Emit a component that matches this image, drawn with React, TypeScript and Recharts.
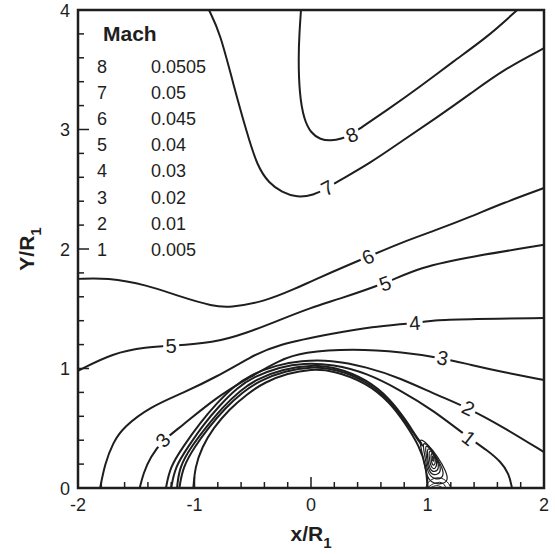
import React from 'react';
import { ComposedChart, Line, Scatter, XAxis, YAxis, ReferenceArea } from 'recharts';

const FONT = '"Liberation Sans", Arial, Helvetica, sans-serif';
const INK = '#1e1e1e';

// Tick positions (majors are integers)
const xTicks = [-2, -1.8, -1.6, -1.4, -1.2, -1, -0.8, -0.6, -0.4, -0.2, 0, 0.2, 0.4, 0.6, 0.8, 1, 1.2, 1.4, 1.6, 1.8, 2];
const yTicks = [0, 0.2, 0.4, 0.6, 0.8, 1, 1.2, 1.4, 1.6, 1.8, 2, 2.2, 2.4, 2.6, 2.8, 3, 3.2, 3.4, 3.6, 3.8, 4];

// Legend
const legendLevels = ['8', '7', '6', '5', '4', '3', '2', '1'];
const legendValues = ['0.0505', '0.05', '0.045', '0.04', '0.03', '0.02', '0.01', '0.005'];

// Contour lines (x/R1, Y/R1)
const contour8 = [
  { x: -0.086, y: 4.0 }, { x: -0.1, y: 3.8 }, { x: -0.108, y: 3.6 }, { x: -0.1, y: 3.3 },
  { x: -0.06, y: 3.08 }, { x: 0.0, y: 2.97 }, { x: 0.08, y: 2.915 }, { x: 0.17, y: 2.905 },
  { x: 0.26, y: 2.92 }, { x: 0.35, y: 2.96 }, { x: 0.42, y: 3.01 }, { x: 0.65, y: 3.16 },
  { x: 0.94, y: 3.36 }, { x: 1.22, y: 3.57 }, { x: 1.51, y: 3.77 }, { x: 1.77, y: 4.0 },
];
const contour7 = [
  { x: -0.876, y: 4.0 }, { x: -0.781, y: 3.81 }, { x: -0.67, y: 3.39 }, { x: -0.55, y: 2.97 },
  { x: -0.46, y: 2.69 }, { x: -0.36, y: 2.55 }, { x: -0.25, y: 2.475 }, { x: -0.12, y: 2.43 },
  { x: 0.02, y: 2.45 }, { x: 0.14, y: 2.51 }, { x: 0.22, y: 2.56 }, { x: 0.51, y: 2.72 },
  { x: 0.79, y: 2.91 }, { x: 1.08, y: 3.1 }, { x: 1.37, y: 3.3 }, { x: 1.65, y: 3.5 }, { x: 2.0, y: 3.68 },
];
const contour6 = [
  { x: -2, y: 1.75 }, { x: -1.75, y: 1.76 }, { x: -1.41, y: 1.7 }, { x: -1.12, y: 1.6 },
  { x: -0.84, y: 1.52 }, { x: -0.7, y: 1.51 }, { x: -0.41, y: 1.556 }, { x: -0.12, y: 1.674 },
  { x: 0.0, y: 1.73 }, { x: 0.36, y: 1.883 }, { x: 0.49, y: 1.935 }, { x: 0.79, y: 2.06 },
  { x: 1.08, y: 2.16 }, { x: 1.37, y: 2.27 }, { x: 1.65, y: 2.385 }, { x: 2, y: 2.51 },
];
const contour5 = [
  { x: -2, y: 0.98 }, { x: -1.7, y: 1.13 }, { x: -1.41, y: 1.18 }, { x: -1.2, y: 1.19 },
  { x: -0.84, y: 1.213 }, { x: -0.55, y: 1.297 }, { x: -0.27, y: 1.406 }, { x: 0.0, y: 1.51 },
  { x: 0.22, y: 1.575 }, { x: 0.635, y: 1.71 }, { x: 0.94, y: 1.85 }, { x: 1.37, y: 1.935 }, { x: 2, y: 2.035 },
];
const contour4 = [
  { x: -1.81, y: 0 }, { x: -1.77, y: 0.2 }, { x: -1.7, y: 0.38 }, { x: -1.61, y: 0.51 },
  { x: -1.38, y: 0.68 }, { x: -1.1, y: 0.795 }, { x: -0.81, y: 0.93 }, { x: -0.52, y: 1.096 },
  { x: -0.3, y: 1.2 }, { x: 0.22, y: 1.3 }, { x: 0.51, y: 1.347 }, { x: 0.89, y: 1.381 },
  { x: 1.08, y: 1.406 }, { x: 1.37, y: 1.414 }, { x: 2, y: 1.423 },
];
const contour3 = [
  { x: -1.47, y: 0 }, { x: -1.44, y: 0.12 }, { x: -1.38, y: 0.26 }, { x: -1.27, y: 0.4 },
  { x: -1.12, y: 0.51 }, { x: -0.81, y: 0.762 }, { x: -0.52, y: 0.93 }, { x: -0.27, y: 1.07 },
  { x: -0.07, y: 1.138 }, { x: 0.36, y: 1.165 }, { x: 0.79, y: 1.138 }, { x: 1.13, y: 1.088 },
  { x: 1.37, y: 1.03 }, { x: 1.65, y: 0.97 }, { x: 2, y: 0.904 },
];
const contour2 = [
  { x: -1.245, y: 0 }, { x: -1.21, y: 0.176 }, { x: -1.1, y: 0.343 }, { x: -0.953, y: 0.544 },
  { x: -0.807, y: 0.711 }, { x: -0.67, y: 0.845 }, { x: -0.524, y: 0.946 }, { x: -0.29, y: 1.03 },
  { x: -0.09, y: 1.065 }, { x: 0.17, y: 1.072 }, { x: 0.48, y: 1.013 }, { x: 0.764, y: 0.921 },
  { x: 1.08, y: 0.778 }, { x: 1.35, y: 0.669 }, { x: 1.65, y: 0.51 }, { x: 2, y: 0.3 },
];
const contour1 = [
  { x: -1.2, y: 0 }, { x: -1.167, y: 0.176 }, { x: -1.056, y: 0.343 }, { x: -0.927, y: 0.527 },
  { x: -0.781, y: 0.695 }, { x: -0.635, y: 0.837 }, { x: -0.498, y: 0.929 }, { x: -0.266, y: 1.013 },
  { x: -0.069, y: 1.046 }, { x: 0.19, y: 1.035 }, { x: 0.48, y: 0.962 }, { x: 0.764, y: 0.82 },
  { x: 1.047, y: 0.653 }, { x: 1.356, y: 0.418 }, { x: 1.511, y: 0.318 }, { x: 1.63, y: 0.22 },
  { x: 1.7, y: 0.12 }, { x: 1.725, y: 0 },
];
const innerA = [
  { x: -1.15, y: 0 }, { x: -1.13, y: 0.176 }, { x: -1.03, y: 0.343 }, { x: -0.9, y: 0.51 },
  { x: -0.76, y: 0.675 }, { x: -0.61, y: 0.815 }, { x: -0.46, y: 0.915 }, { x: -0.24, y: 0.995 },
  { x: 0.0, y: 1.03 }, { x: 0.2, y: 1.015 }, { x: 0.48, y: 0.91 }, { x: 0.68, y: 0.745 },
  { x: 0.82, y: 0.56 }, { x: 0.91, y: 0.42 }, { x: 0.95, y: 0.37 },
];
const innerB = [
  { x: -1.13, y: 0 }, { x: -1.1, y: 0.176 }, { x: -1.0, y: 0.343 }, { x: -0.875, y: 0.51 },
  { x: -0.735, y: 0.67 }, { x: -0.59, y: 0.8 }, { x: -0.44, y: 0.9 }, { x: -0.22, y: 0.98 },
  { x: 0.0, y: 1.015 }, { x: 0.2, y: 1.0 }, { x: 0.48, y: 0.895 }, { x: 0.68, y: 0.73 },
  { x: 0.82, y: 0.545 }, { x: 0.92, y: 0.4 }, { x: 0.96, y: 0.35 },
];
const innerC = [
  { x: -1.01, y: 0 }, { x: -0.995, y: 0.176 }, { x: -0.936, y: 0.343 }, { x: -0.84, y: 0.5 },
  { x: -0.7, y: 0.66 }, { x: -0.55, y: 0.785 }, { x: -0.4, y: 0.885 }, { x: -0.2, y: 0.96 },
  { x: 0.0, y: 0.995 }, { x: 0.19, y: 0.985 }, { x: 0.48, y: 0.88 }, { x: 0.68, y: 0.715 },
  { x: 0.82, y: 0.525 }, { x: 0.93, y: 0.35 }, { x: 0.99, y: 0.18 }, { x: 1.0, y: 0 },
];

// Small recirculation contours near x = 1
const loopA = [
  { x: 0.918, y: 0.43 }, { x: 1.0, y: 0.37 }, { x: 1.09, y: 0.26 }, { x: 1.16, y: 0.14 },
  { x: 1.18, y: 0.06 }, { x: 1.12, y: 0.03 }, { x: 1.03, y: 0.04 }, { x: 0.985, y: 0.12 }, { x: 0.96, y: 0.28 },
];
const loopB = [
  { x: 0.95, y: 0.4 }, { x: 1.02, y: 0.34 }, { x: 1.09, y: 0.24 }, { x: 1.14, y: 0.14 },
  { x: 1.13, y: 0.08 }, { x: 1.06, y: 0.07 }, { x: 1.0, y: 0.12 }, { x: 0.98, y: 0.26 },
];
const loopC = [
  { x: 0.975, y: 0.37 }, { x: 1.04, y: 0.32 }, { x: 1.09, y: 0.23 }, { x: 1.12, y: 0.15 },
  { x: 1.09, y: 0.11 }, { x: 1.03, y: 0.11 }, { x: 1.0, y: 0.18 }, { x: 0.99, y: 0.28 },
];
const loopD = [
  { x: 0.995, y: 0.35 }, { x: 1.05, y: 0.3 }, { x: 1.09, y: 0.22 }, { x: 1.1, y: 0.16 },
  { x: 1.06, y: 0.13 }, { x: 1.02, y: 0.15 }, { x: 1.0, y: 0.25 },
];
const loopE = [
  { x: 1.01, y: 0.33 }, { x: 1.06, y: 0.28 }, { x: 1.085, y: 0.21 }, { x: 1.07, y: 0.16 },
  { x: 1.035, y: 0.16 }, { x: 1.015, y: 0.24 },
];
const loopF = [
  { x: 1.03, y: 0.31 }, { x: 1.065, y: 0.26 }, { x: 1.07, y: 0.21 }, { x: 1.05, y: 0.18 }, { x: 1.03, y: 0.22 },
];
const loopG = [
  { x: 1.04, y: 0.28 }, { x: 1.055, y: 0.25 }, { x: 1.055, y: 0.22 }, { x: 1.04, y: 0.23 },
];
const arcA = [
  { x: 0.985, y: 0 }, { x: 1.02, y: 0.06 }, { x: 1.1, y: 0.085 }, { x: 1.17, y: 0.05 }, { x: 1.2, y: 0 },
];
const arcB = [
  { x: 1.0, y: 0 }, { x: 1.05, y: 0.035 }, { x: 1.12, y: 0.045 }, { x: 1.16, y: 0 },
];
const arcC = [
  { x: 1.02, y: 0 }, { x: 1.08, y: 0.02 }, { x: 1.13, y: 0 },
];

const contours = [contour8, contour7, contour6, contour5, contour4, contour3, contour2, contour1, innerA, innerB, innerC];
const vortex = [loopA, loopB, loopC, loopD, loopE, loopF, loopG];
const vortexArcs = [arcA, arcB, arcC];

// Inline contour labels
const labelPoints = [
  { x: 0.35, y: 2.955, label: '8', angle: -23 },
  { x: 0.14, y: 2.51, label: '7', angle: -28 },
  { x: 0.49, y: 1.935, label: '6', angle: -24 },
  { x: 0.635, y: 1.71, label: '5', angle: -20 },
  { x: -1.2, y: 1.19, label: '5', angle: -2 },
  { x: 0.89, y: 1.381, label: '4', angle: -5 },
  { x: 1.13, y: 1.088, label: '3', angle: 11 },
  { x: -1.27, y: 0.4, label: '3', angle: -47 },
  { x: 1.35, y: 0.669, label: '2', angle: 26 },
  { x: 1.356, y: 0.418, label: '1', angle: 38 },
];

const XTick = (props: any) => {
  const { x, y, payload } = props;
  const major = Number.isInteger(payload.value);
  return (
    <g>
      <line x1={x} y1={y} x2={x} y2={y - (major ? 11 : 6)} stroke={INK} strokeWidth={1.5} />
      {major && (
        <text x={x} y={y + 23} textAnchor="middle" fontSize={18} fontFamily={FONT} fill={INK}>
          {payload.value}
        </text>
      )}
    </g>
  );
};

const YTick = (props: any) => {
  const { x, y, payload } = props;
  const major = Number.isInteger(payload.value);
  return (
    <g>
      <line x1={x} y1={y} x2={x + (major ? 11 : 6)} y2={y} stroke={INK} strokeWidth={1.5} />
      {major && (
        <text x={x - 8} y={y + 6.5} textAnchor="end" fontSize={18} fontFamily={FONT} fill={INK}>
          {payload.value}
        </text>
      )}
    </g>
  );
};

const LabelShape = (props: any) => {
  const { cx, cy, payload } = props;
  return (
    <g transform={`rotate(${payload.angle} ${cx} ${cy})`}>
      <rect x={cx - 8} y={cy - 9} width={16} height={18} fill="#fff" />
      <text x={cx} y={cy + 7} textAnchor="middle" fontSize={20} fontFamily={FONT} fill={INK}>
        {payload.label}
      </text>
    </g>
  );
};

export default function App() {
  return (
    <div style={{ position: 'absolute', left: 0, top: 0, width: 555, height: 554, background: '#fff' }}>
      <ComposedChart width={555} height={554} margin={{ top: 10, right: 11, bottom: 0, left: 0 }}>
        <XAxis
          dataKey="x"
          type="number"
          domain={[-2, 2]}
          ticks={xTicks}
          interval={0}
          height={66}
          axisLine={false}
          tickLine={false}
          tickSize={0}
          tickMargin={0}
          tick={<XTick />}
        />
        <YAxis
          dataKey="y"
          type="number"
          domain={[0, 4]}
          ticks={yTicks}
          interval={0}
          width={78}
          axisLine={false}
          tickLine={false}
          tickSize={0}
          tickMargin={0}
          tick={<YTick />}
        />
        {vortex.map((d, i) => (
          <Line key={'v' + i} data={d} dataKey="y" type="basisClosed" stroke={INK} strokeWidth={1.2}
            dot={false} activeDot={false} isAnimationActive={false} />
        ))}
        {vortexArcs.map((d, i) => (
          <Line key={'a' + i} data={d} dataKey="y" type="natural" stroke={INK} strokeWidth={1}
            dot={false} activeDot={false} isAnimationActive={false} />
        ))}
        {contours.map((d, i) => (
          <Line key={'c' + i} data={d} dataKey="y" type="basis" stroke={INK} strokeWidth={2}
            dot={false} activeDot={false} isAnimationActive={false} />
        ))}
        <Scatter data={labelPoints} dataKey="y" shape={<LabelShape />} isAnimationActive={false} />
        <ReferenceArea x1={-2} x2={2} y1={0} y2={4} fill="none" stroke={INK} strokeWidth={2.5} ifOverflow="visible" />
      </ComposedChart>
      <svg width={555} height={554} style={{ position: 'absolute', left: 0, top: 0, pointerEvents: 'none' }}>
        <text x={103} y={41} fontSize={21} fontWeight="bold" fontFamily={FONT} fill={INK}>Mach</text>
        {legendLevels.map((lv, i) => (
          <g key={lv}>
            <text x={97} y={73 + i * 26.1} fontSize={18} fontFamily={FONT} fill={INK}>{lv}</text>
            <text x={151} y={73 + i * 26.1} fontSize={18} fontFamily={FONT} fill={INK}>{legendValues[i]}</text>
          </g>
        ))}
        <text x={311} y={541} textAnchor="middle" fontSize={21} fontWeight="bold" fontFamily={FONT} fill={INK}>
          x/R<tspan fontSize={15} dy={7}>1</tspan>
        </text>
        <text transform="translate(34 249) rotate(-90)" x={0} y={0} textAnchor="middle" fontSize={21} fontWeight="bold" fontFamily={FONT} fill={INK}>
          Y/R<tspan fontSize={15} dy={7}>1</tspan>
        </text>
      </svg>
    </div>
  );
}
